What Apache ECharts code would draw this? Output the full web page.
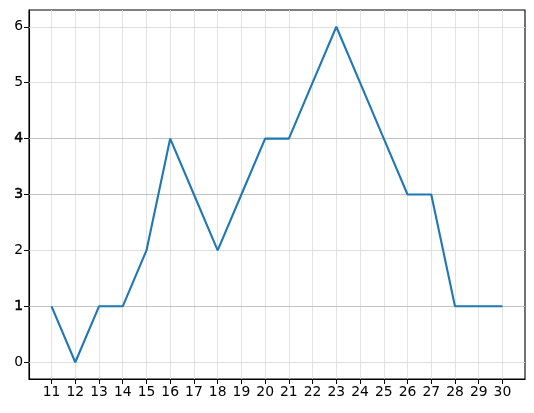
<!DOCTYPE html>
<html><head><meta charset="utf-8">
<script src="https://cdn.jsdelivr.net/npm/echarts@6/dist/echarts.min.js"></script>
<style>html,body{margin:0;padding:0;background:#fff}#c{width:534px;height:413px}</style>
</head><body><div id="c"></div>
<script>
var categories = [11,12,13,14,15,16,17,18,19,20,21,22,23,24,25,26,27,28,29,30];
var values = [1,0,1,1,2,4,3,2,3,4,4,5,6,5,4,3,3,1,1,1];
var yTicks = [0,1,2,3,4,5,6];
var darkYLines = [1,3,4];

var data = categories.map(function(c,i){return [c, values[i]];});
var gridLines = [];
categories.forEach(function(c){
  gridLines.push({xAxis:c, lineStyle:{color:'#dcdcdc', width:0.8, type:'solid'}});
});
yTicks.forEach(function(v){
  var dark = darkYLines.indexOf(v) >= 0;
  gridLines.push({yAxis:v, lineStyle:{color: dark ? '#b4b4b4' : '#d6d6d6', width:0.8, type:'solid'}});
});

var chart = echarts.init(document.getElementById('c'), null, {renderer:'canvas'});
chart.setOption({
  animation:false,
  backgroundColor:'#fff',
  grid:{left:29, right:9, top:10, bottom:34, show:true, borderColor:'#000', borderWidth:1.1},
  xAxis:{
    type:'value', min:10.05, max:30.95,
    axisLine:{show:true, onZero:false, lineStyle:{color:'#000', width:1.1}},
    axisTick:{show:true, customValues:categories, length:5, lineStyle:{color:'#000', width:1}},
    axisLabel:{show:true, customValues:categories, margin:6, color:'#000', fontFamily:'DejaVu Sans', fontSize:13.9},
    splitLine:{show:false}
  },
  yAxis:{
    type:'value', min:-0.3, max:6.3,
    axisLine:{show:true, onZero:false, lineStyle:{color:'#000', width:1.1}},
    axisTick:{show:true, customValues:yTicks, length:5, lineStyle:{color:'#000', width:1}},
    axisLabel:{show:true, customValues:yTicks, margin:6, color:'#000', fontFamily:'DejaVu Sans', fontSize:13.9,
      formatter:function(v){ return darkYLines.indexOf(v)>=0 ? '{b|'+v+'}' : String(v); },
      rich:{b:{fontFamily:'DejaVu Sans', fontSize:13.9, color:'#000', textBorderColor:'#000', textBorderWidth:0.5}}
    },
    splitLine:{show:false}
  },
  series:[{
    type:'line', data:data, symbol:'none', z:5,
    lineStyle:{color:'#1f77b4', width:2.1},
    markLine:{silent:true, symbol:['none','none'], label:{show:false}, data:gridLines, z:1, animation:false}
  }]
});
</script></body></html>
